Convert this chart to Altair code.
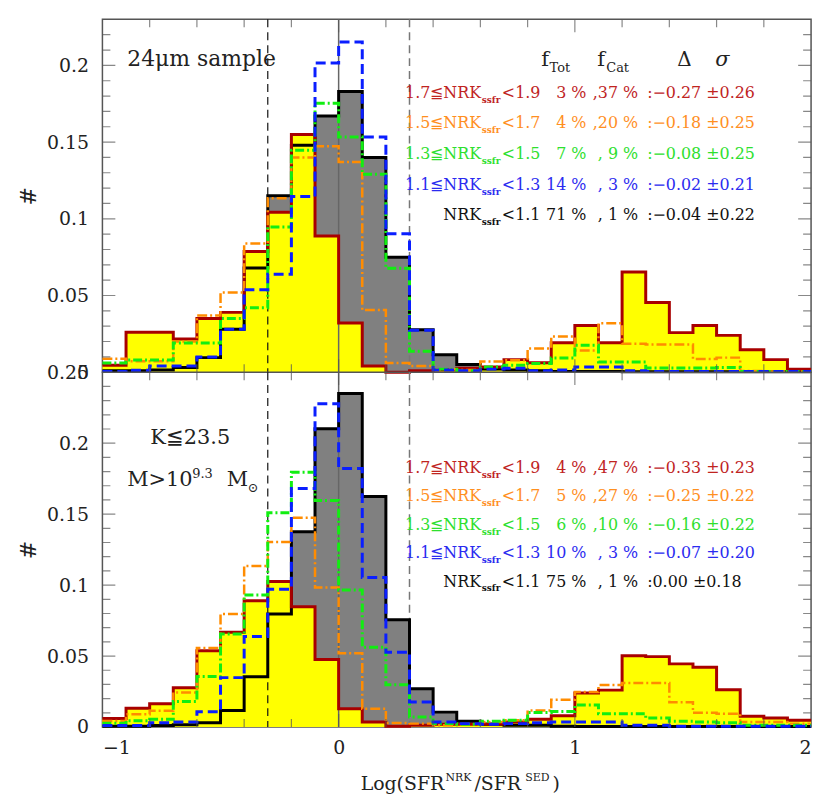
import altair as alt
import pandas as pd

# ---------------- data ----------------
EDGES = [round(-1.0 + 0.1 * i, 1) for i in range(31)]  # bin edges, width 0.1

# top panel (24um sample)
TOP_BLACK = [0.001, 0.001, 0.0015, 0.003, 0.0095, 0.028, 0.068, 0.115, 0.148, 0.167,
             0.183, 0.140, 0.075, 0.0276, 0.0114, 0.005, 0.002, 0.0015, 0.001, 0.0005,
             0.0005, 0.0005, 0.0003, 0.0003, 0.0003, 0.0003, 0.0003, 0.0003, 0.0003, 0.0003]
TOP_RED = [0.0045, 0.026, 0.026, 0.0217, 0.035, 0.039, 0.0787, 0.1043, 0.155, 0.0888,
           0.032, 0.004, 0.0, 0.001, 0.0015, 0.0025, 0.0034, 0.0082, 0.0062, 0.0192,
           0.0304, 0.0192, 0.0653, 0.0455, 0.0258, 0.0304, 0.024, 0.0146, 0.0082, 0.002]
TOP_ORANGE = [0.0088, 0.0071, 0.0071, 0.020, 0.0369, 0.052, 0.0839, 0.1134, 0.140, 0.1473,
              0.137, 0.0405, 0.006, 0.004, 0.002, 0.0015, 0.007, 0.0078, 0.0155, 0.0233,
              0.0142, 0.0319, 0.0185, 0.018, 0.018, 0.0086, 0.0095, 0.0008, 0.0005, 0.0005]
TOP_GREEN = [0.006, 0.008, 0.008, 0.019, 0.019, 0.035, 0.042, 0.0947, 0.1447, 0.1753,
             0.1533, 0.129, 0.0677, 0.0137, 0.002, 0.001, 0.0034, 0.0045, 0.0056, 0.0093,
             0.0175, 0.0067, 0.0067, 0.0028, 0.0028, 0.0028, 0.003, 0.0005, 0.0005, 0.0005]
TOP_BLUE = [0.0005, 0.0013, 0.004, 0.004, 0.0099, 0.028, 0.0537, 0.0638, 0.1145, 0.2016,
            0.2152, 0.1533, 0.0903, 0.0274, 0.0015, 0.001, 0.002, 0.0025, 0.001, 0.0015,
            0.0034, 0.0034, 0.001, 0.0005, 0.0005, 0.0005, 0.0005, 0.0005, 0.0005, 0.0005]

# bottom panel (K<=23.5, M>10^9.3)
BOT_BLACK = [0.0005, 0.0005, 0.001, 0.0016, 0.003, 0.0117, 0.0355, 0.0796, 0.1376, 0.2101,
             0.235, 0.1624, 0.0756, 0.027, 0.0105, 0.004, 0.0019, 0.0012, 0.0012, 0.0005,
             0.0003, 0.0003, 0.0003, 0.0003, 0.0003, 0.0003, 0.0003, 0.0003, 0.0003, 0.0003]
BOT_RED = [0.006, 0.0133, 0.0164, 0.0276, 0.0538, 0.0667, 0.089, 0.1025, 0.0847, 0.0475,
           0.0129, 0.0035, 0.0005, 0.0012, 0.002, 0.002, 0.0022, 0.0035, 0.0054, 0.008,
           0.0239, 0.026, 0.0503, 0.0496, 0.0445, 0.0421, 0.0262, 0.0076, 0.0063, 0.0047]
BOT_ORANGE = [0.0042, 0.009, 0.0115, 0.0244, 0.0556, 0.0796, 0.1135, 0.1304, 0.1474, 0.0983,
              0.052, 0.0129, 0.0028, 0.0024, 0.0012, 0.002, 0.0035, 0.0047, 0.0117, 0.0192,
              0.0246, 0.0296, 0.031, 0.031, 0.0174, 0.0100, 0.0094, 0.0035, 0.0035, 0.0024]
BOT_GREEN = [0.0026, 0.0045, 0.0054, 0.018, 0.0356, 0.0656, 0.093, 0.151, 0.1795, 0.1596,
             0.0965, 0.0562, 0.0298, 0.007, 0.0024, 0.0019, 0.004, 0.0047, 0.0103, 0.011,
             0.0155, 0.0094, 0.0094, 0.0063, 0.004, 0.0035, 0.003, 0.0012, 0.0012, 0.0012]
BOT_BLUE = [0.001, 0.001, 0.003, 0.0035, 0.0108, 0.0348, 0.0637, 0.0971, 0.168, 0.2277,
            0.1821, 0.1053, 0.0527, 0.0176, 0.0035, 0.0024, 0.0019, 0.0024, 0.003, 0.0035,
            0.0035, 0.0035, 0.0012, 0.0012, 0.0005, 0.0005, 0.0005, 0.0005, 0.0005, 0.0005]

# annotation texts
ROW_HEADS = ["1.7≦NRK", "1.5≦NRK", "1.3≦NRK", "1.1≦NRK", "NRK"]
ROW_LIMITS = ["<1.9", "<1.7", "<1.5", "<1.3", "<1.1"]
TOP_FTOT = ["3 %", "4 %", "7 %", "14 %", "71 %"]
TOP_FCAT = [",37 %", ",20 %", ", 9 %", ", 3 %", ", 1 %"]
TOP_STATS = [":−0.27  ±0.26", ":−0.18  ±0.25", ":−0.08  ±0.25", ":−0.02  ±0.21", ":−0.04  ±0.22"]
BOT_FTOT = ["4 %", "5 %", "6 %", "10 %", "75 %"]
BOT_FCAT = [",47 %", ",27 %", ",10 %", ", 3 %", ", 1 %"]
BOT_STATS = [":−0.33  ±0.23", ":−0.25  ±0.22", ":−0.16  ±0.22", ":−0.07  ±0.20", ":0.00  ±0.18"]
ROW_Y = [0.179, 0.159, 0.139, 0.119, 0.099]
ROW_COLORS = ["#c0241f", "#ff8f1f", "#2ee02e", "#2b2bf0", "#111111"]

TOP_YLABELS = [0, 0.05, 0.1, 0.15, 0.2]
BOT_YLABELS = [0, 0.05, 0.1, 0.15, 0.2, 0.25]
X_LABELS = [-1, 0, 1, 2]

FONT = "DejaVu Serif"
W = 713
H_TOP = 355
H_BOT = 357
TXT = "#222222"

XS = alt.Scale(domain=[-1, 2], nice=False, zero=False)


def hist_frame(values):
    return pd.DataFrame({"x": EDGES, "y": list(values) + [values[-1]]})


def panel(series, ymax, height, ylabels, ftot, fcat, stats, bottom, extra_texts):
    black, red, orange, green, blue = series
    ys = alt.Scale(domain=[0, ymax], nice=False, zero=True)
    xaxis = (alt.Axis(values=X_LABELS, format="~g", labelFont=FONT, labelFontSize=19,
                      labelColor=TXT, labelPadding=12, ticks=False, domain=False,
                      grid=False, title=None) if bottom else None)
    yaxis = alt.Axis(values=ylabels, format="~g", labelFont=FONT, labelFontSize=19,
                     labelColor=TXT, labelPadding=14, ticks=False, domain=False, grid=False,
                     title="#", titleFont=FONT, titleFontSize=22, titleFontWeight="normal",
                     titleColor=TXT, titlePadding=6)
    X = alt.X("x:Q", scale=XS, axis=xaxis)
    Y = alt.Y("y:Q", scale=ys, axis=yaxis)

    layers = []
    layers.append(alt.Chart(hist_frame(black)).mark_area(
        interpolate="step-after", color="#808080").encode(x=X, y=Y))
    layers.append(alt.Chart(hist_frame(red)).mark_area(
        interpolate="step-after", color="#ffff00").encode(x=X, y=Y))

    # vertical reference lines
    layers.append(alt.Chart(pd.DataFrame({"x": [-0.3]})).mark_rule(
        color="#111111", strokeWidth=1.2, strokeDash=[8, 5]).encode(x=X))
    layers.append(alt.Chart(pd.DataFrame({"x": [0.0]})).mark_rule(
        color="#666666", strokeWidth=1.5).encode(x=X))
    layers.append(alt.Chart(pd.DataFrame({"x": [0.3]})).mark_rule(
        color="#777777", strokeWidth=1.5, strokeDash=[8, 5]).encode(x=X))

    # histogram outlines
    styles = [
        (black, "#000000", 3, None),
        (red, "#a80000", 3, None),
        (orange, "#ff8c00", 2.5, [10, 3, 2, 3]),
        (green, "#11ee11", 3, [9, 3, 2, 3]),
        (blue, "#0a1eff", 3, [10, 5]),
    ]
    for vals, col, sw, dash in styles:
        kw = dict(interpolate="step-after", color=col, strokeWidth=sw)
        if dash:
            kw["strokeDash"] = dash
        layers.append(alt.Chart(hist_frame(vals)).mark_line(**kw).encode(x=X, y=Y))

    # inward ticks on all four sides
    ymajor = [v for v in ylabels if 0 < v < ymax]
    yminor = [round(0.01 * i, 2) for i in range(1, int(ymax * 100) + 1)
              if round(0.01 * i, 2) not in ymajor and round(0.01 * i, 2) < ymax]
    xmajor = [0.0, 1.0]
    xminor = [-0.8, -0.6, -0.4, -0.2, 0.2, 0.4, 0.6, 0.8, 1.2, 1.4, 1.6, 1.8]
    for xs_, size in ((yminor, 16), (ymajor, 26)):
        df = pd.DataFrame({"x": [-1.0] * len(xs_) + [2.0] * len(xs_), "y": xs_ + xs_})
        layers.append(alt.Chart(df).mark_tick(orient="horizontal", size=size, thickness=1.2,
                                              color="#555555", clip=True).encode(x=X, y=Y))
    for xs_, size in ((xminor, 16), (xmajor, 26)):
        df = pd.DataFrame({"x": xs_ + xs_, "y": [0.0] * len(xs_) + [ymax] * len(xs_)})
        layers.append(alt.Chart(df).mark_tick(orient="vertical", size=size, thickness=1.2,
                                              color="#555555", clip=True).encode(x=X, y=Y))

    # statistics rows
    heads = pd.DataFrame({"x": [0.603] * 5, "y": ROW_Y, "t": ROW_HEADS, "c": ROW_COLORS})
    subs = pd.DataFrame({"x": [0.606] * 5, "y": ROW_Y, "t": ["ssfr"] * 5, "c": ROW_COLORS})
    lims = pd.DataFrame({"x": [0.691] * 5, "y": ROW_Y, "t": ROW_LIMITS, "c": ROW_COLORS})
    ftots = pd.DataFrame({"x": [1.049] * 5, "y": ROW_Y, "t": ftot, "c": ROW_COLORS})
    fcats = pd.DataFrame({"x": [1.268] * 5, "y": ROW_Y, "t": fcat, "c": ROW_COLORS})
    stts = pd.DataFrame({"x": [1.306] * 5, "y": ROW_Y, "t": stats, "c": ROW_COLORS})
    C = alt.Color("c:N", scale=None)
    T = alt.Text("t:N")
    for df, align in ((heads, "right"), (ftots, "right"), (fcats, "right"),
                      (lims, "left"), (stts, "left")):
        layers.append(alt.Chart(df).mark_text(align=align, baseline="alphabetic", font=FONT,
                                              fontSize=16).encode(x=X, y=Y, text=T, color=C))
    layers.append(alt.Chart(subs).mark_text(align="left", baseline="alphabetic", font=FONT,
                                            fontSize=9, fontWeight="bold", dy=5).encode(
        x=X, y=Y, text=T, color=C))

    # extra free texts: (x, y, text, size, align, dy, style)
    for (tx, ty, tt, tsize, talign, tdy, tstyle) in extra_texts:
        df = pd.DataFrame({"x": [tx], "y": [ty], "t": [tt]})
        kw = dict(align=talign, baseline="alphabetic", font=FONT, fontSize=tsize,
                  color=TXT, dy=tdy)
        if tstyle:
            kw["fontStyle"] = tstyle
        enc = dict(x=X, text=T)
        if isinstance(ty, str):
            enc["y"] = alt.value(float(ty))
        else:
            enc["y"] = Y
        layers.append(alt.Chart(df).mark_text(**kw).encode(**enc))

    return alt.layer(*layers).properties(width=W, height=height)


TOP_TEXTS = [
    (-0.895, 0.1995, "24μm   sample", 22, "left", 0, None),
    (0.858, 0.1995, "f", 21, "left", 0, None),
    (0.893, 0.1995, "Tot", 13, "left", 6, None),
    (1.095, 0.1995, "f", 21, "left", 0, None),
    (1.133, 0.1995, "Cat", 13, "left", 6, None),
    (1.464, 0.1995, "Δ", 20, "center", 0, None),
    (1.625, 0.1995, "σ", 21, "center", 0, "italic"),
]
BOT_TEXTS = [
    (-0.798, 0.1992, "K≦23.5", 21, "left", 0, None),
    (-0.895, 0.1697, "M>10", 21, "left", 0, None),
    (-0.620, 0.1697, "9.3", 13, "left", -8, None),
    (-0.474, 0.1697, "M", 21, "left", 0, None),
    (-0.385, 0.1697, "⊙", 13, "left", 6, None),
    (0.447, "420", "Log(SFR", 19, "right", 0, None),
    (0.452, "420", "NRK", 11, "left", -9, None),
    (0.575, "420", "/SFR", 19, "left", 0, None),
    (0.790, "420", "SED", 11, "left", -9, None),
    (0.905, "420", ")", 19, "left", 0, None),
]

top = panel((TOP_BLACK, TOP_RED, TOP_ORANGE, TOP_GREEN, TOP_BLUE), 0.23, H_TOP,
            TOP_YLABELS, TOP_FTOT, TOP_FCAT, TOP_STATS, False, TOP_TEXTS)
bot = panel((BOT_BLACK, BOT_RED, BOT_ORANGE, BOT_GREEN, BOT_BLUE), 0.25, H_BOT,
            BOT_YLABELS, BOT_FTOT, BOT_FCAT, BOT_STATS, True, BOT_TEXTS)

chart = alt.vconcat(top, bot, spacing=0, bounds="flush").configure_view(
    stroke="#555555", strokeWidth=1.5
).properties(padding={"left": 8, "top": 7, "right": 5, "bottom": 5})

chart.save("out.html", embed_options={"renderer": "svg", "actions": False})
